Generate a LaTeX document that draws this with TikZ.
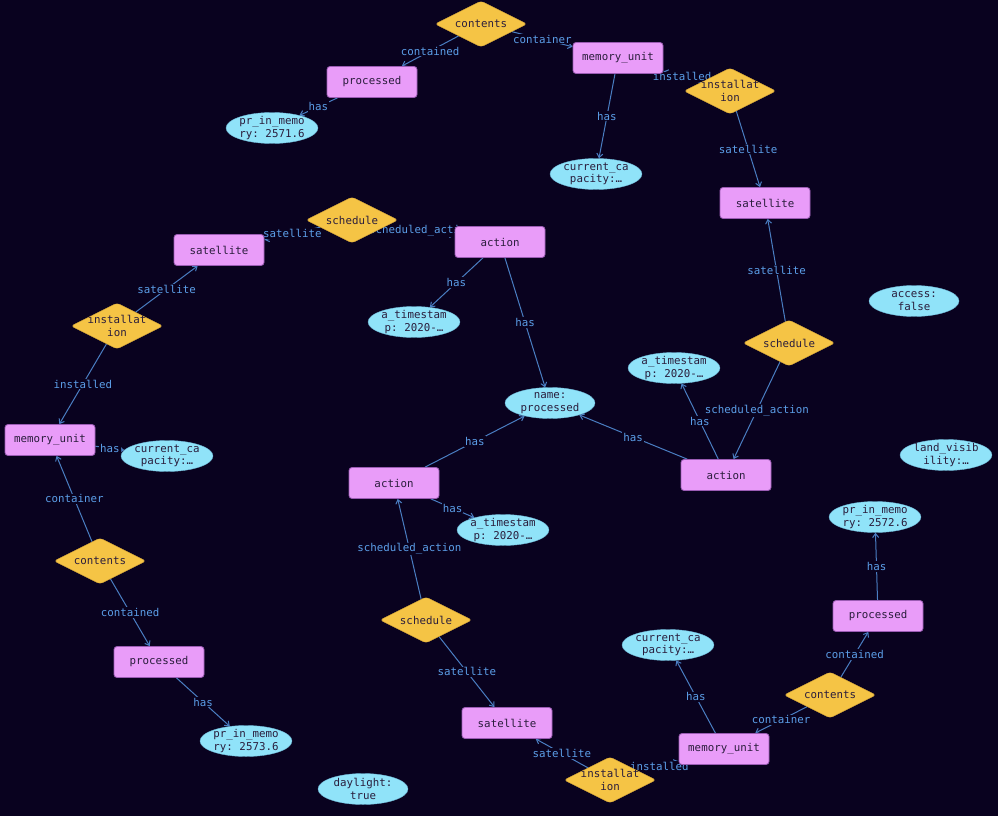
\documentclass[tikz,border=0pt]{standalone}
\usepackage{fontspec}
\setmonofont{DejaVu Sans Mono}
\usepackage{tikz}
\usetikzlibrary{shapes.geometric, arrows.meta, positioning}
\pgfdeclarelayer{background}
\pgfsetlayers{background,main}
\definecolor{bgcol}{HTML}{09021F}
\definecolor{entfill}{HTML}{E99CF9}
\definecolor{entline}{HTML}{9B5CB4}
\definecolor{relfill}{HTML}{F5C445}
\definecolor{relline}{HTML}{D8A83A}
\definecolor{attfill}{HTML}{90E3F9}
\definecolor{attline}{HTML}{6FB8D8}
\definecolor{nodetext}{HTML}{2A1D3C}
\definecolor{edgecol}{HTML}{4A7EC2}
\definecolor{lblcol}{HTML}{5C9FE9}

\begin{document}
\begin{tikzpicture}[
    x=1pt, y=-1pt,
    txt/.style={font=\ttfamily\fontsize{10.8}{12.5}\selectfont},
    entity/.style={txt, rectangle, draw=entline, fill=entfill, rounded corners=3pt, minimum width=90pt, minimum height=31pt, text=nodetext, line width=0.8pt},
    relation/.style={txt, diamond, aspect=2, draw=relline, fill=relfill, rounded corners=3pt, minimum width=92pt, minimum height=46pt, inner xsep=-4pt, inner ysep=-4pt, align=center, text=nodetext},
    attr/.style={txt, ellipse, draw=attline, fill=attfill, minimum width=90pt, minimum height=31pt, inner xsep=0pt, inner ysep=-4pt, align=center, text=nodetext},
    edge/.style={-{Straight Barb[length=4pt, width=6pt]}, draw=edgecol, line width=1pt},
    lbl/.style={txt, fill=bgcol, text=lblcol, inner sep=1pt}
]
    \useasboundingbox (0,0) rectangle (998,816);

    % top
    \node[relation] (contA) at (481,24) {contents};
    \node[entity] (procA) at (372,82) {processed};
    \node[attr] (prA) at (272,128) {pr\_in\_memo\\ry: 2571.6};
    \node[entity] (memA) at (618,58) {memory\_unit};
    \node[attr] (capA) at (596,174) {current\_ca\\pacity:…};
    \node[relation] (instA) at (730,91) {installat\\ion};
    \node[entity] (satA) at (765,203) {satellite};

    % left
    \node[relation] (schB) at (352,220) {schedule};
    \node[entity] (satB) at (219,250) {satellite};
    \node[entity] (actB) at (500,242) {action};
    \node[attr] (tsB) at (414,322) {a\_timestam\\p: 2020-…};
    \node[relation] (instB) at (117,326) {installat\\ion};
    \node[entity] (memB) at (50,440) {memory\_unit};
    \node[attr] (capB) at (167,456) {current\_ca\\pacity:…};
    \node[relation] (contB) at (100,561) {contents};
    \node[entity] (procB) at (159,662) {processed};
    \node[attr] (prB) at (246,741) {pr\_in\_memo\\ry: 2573.6};

    % middle and right
    \node[attr] (name) at (550,403) {name:\\processed};
    \node[relation] (schC) at (789,343) {schedule};
    \node[entity] (actC) at (726,475) {action};
    \node[attr] (tsC) at (674,368) {a\_timestam\\p: 2020-…};
    \node[attr] (access) at (914,301) {access:\\false};
    \node[attr] (landvis) at (946,455) {land\_visib\\ility:…};

    % bottom
    \node[entity] (actD) at (394,483) {action};
    \node[attr] (tsD) at (503,530) {a\_timestam\\p: 2020-…};
    \node[relation] (schD) at (426,620) {schedule};
    \node[entity] (satD) at (507,723) {satellite};
    \node[relation] (instD) at (610,780) {installat\\ion};
    \node[entity] (memD) at (724,749) {memory\_unit};
    \node[attr] (capD) at (668,645) {current\_ca\\pacity:…};
    \node[relation] (contD) at (830,695) {contents};
    \node[entity] (procD) at (878,616) {processed};
    \node[attr] (prD) at (875,517) {pr\_in\_memo\\ry: 2572.6};
    \node[attr] (daylight) at (363,789) {daylight:\\true};

    \begin{pgfonlayer}{background}
    \fill[bgcol] (0,0) rectangle (998,816);

    \draw[edge] (contA) -- node[lbl] {contained} (procA);
    \draw[edge] (contA) -- node[lbl] {container} (memA);
    \draw[edge] (procA) -- node[lbl] {has} (prA);
    \draw[edge] (memA) -- node[lbl] {has} (capA);
    \draw[edge] (instA) -- node[lbl] {installed} (memA);
    \draw[edge] (instA) -- node[lbl] {satellite} (satA);

    \draw[edge] (schB) -- node[lbl] {scheduled\_action} (actB);
    \draw[edge] (schB) -- node[lbl] {satellite} (satB);
    \draw[edge] (actB) -- node[lbl] {has} (tsB);
    \draw[edge] (actB) -- node[lbl] {has} (name);
    \draw[edge] (instB) -- node[lbl] {satellite} (satB);
    \draw[edge] (instB) -- node[lbl] {installed} (memB);
    \draw[edge] (memB) -- node[lbl] {has} (capB);
    \draw[edge] (contB) -- node[lbl] {container} (memB);
    \draw[edge] (contB) -- node[lbl] {contained} (procB);
    \draw[edge] (procB) -- node[lbl] {has} (prB);

    \draw[edge] (schC) -- node[lbl] {satellite} (satA);
    \draw[edge] (schC) -- node[lbl] {scheduled\_action} (actC);
    \draw[edge] (actC) -- node[lbl] {has} (tsC);
    \draw[edge] (actC) -- node[lbl] {has} (name);

    \draw[edge] (actD) -- node[lbl] {has} (name);
    \draw[edge] (actD) -- node[lbl] {has} (tsD);
    \draw[edge] (schD) -- node[lbl] {scheduled\_action} (actD);
    \draw[edge] (schD) -- node[lbl] {satellite} (satD);
    \draw[edge] (instD) -- node[lbl] {satellite} (satD);
    \draw[edge] (instD) -- node[lbl] {installed} (memD);
    \draw[edge] (memD) -- node[lbl] {has} (capD);
    \draw[edge] (contD) -- node[lbl] {container} (memD);
    \draw[edge] (contD) -- node[lbl] {contained} (procD);
    \draw[edge] (procD) -- node[lbl] {has} (prD);
    \end{pgfonlayer}
\end{tikzpicture}
\end{document}
